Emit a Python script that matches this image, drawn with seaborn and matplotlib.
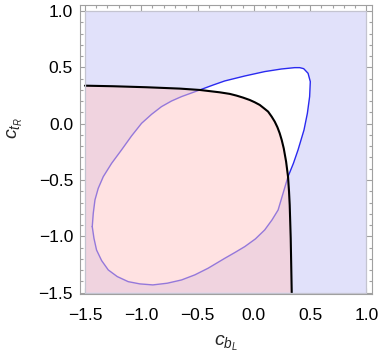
import numpy as np
import pandas as pd
import matplotlib
matplotlib.use('Agg')
import matplotlib.pyplot as plt
from matplotlib.ticker import MultipleLocator
import seaborn as sns

# Black boundary (pink region lies below/left of it)
black_x = [-1.5, -1.249, -0.953, -0.657, -0.48, -0.302, -0.213, -0.154, -0.095,
           -0.036, 0.008, 0.053, 0.091, 0.127, 0.159, 0.186, 0.21, 0.23, 0.248,
           0.266, 0.287, 0.304, 0.313, 0.319, 0.328, 0.337]
black_y = [0.337, 0.332, 0.323, 0.311, 0.299, 0.278, 0.264, 0.249, 0.231,
           0.21, 0.19, 0.166, 0.136, 0.107, 0.062, 0.018, -0.032, -0.085, -0.145,
           -0.219, -0.337, -0.47, -0.603, -0.721, -1.017, -1.5]

# Blue closed contour (white inside, lavender outside)
blue_x = [-1.435, -1.426, -1.411, -1.382, -1.337, -1.263, -1.175, -1.086, -0.997,
          -0.908, -0.82, -0.731, -0.642, -0.554, -0.48, -0.361, -0.258, -0.08,
          0.097, 0.245, 0.363, 0.408, 0.443, 0.482, 0.502, 0.496, 0.476, 0.446,
          0.393, 0.352, 0.304, 0.26, 0.216, 0.162, 0.097, 0.014, -0.08, -0.169,
          -0.258, -0.332, -0.406, -0.524, -0.642, -0.769, -0.897, -1.012, -1.116,
          -1.213, -1.293, -1.352, -1.397, -1.42, -1.435]
blue_y = [-0.914, -0.795, -0.677, -0.574, -0.47, -0.352, -0.233, -0.109, 0.003,
          0.083, 0.151, 0.201, 0.24, 0.272, 0.299, 0.343, 0.379, 0.423,
          0.462, 0.485, 0.497, 0.497, 0.488, 0.447, 0.373, 0.24, 0.092, -0.056,
          -0.233, -0.352, -0.47, -0.618, -0.766, -0.854, -0.943, -1.023, -1.091,
          -1.144, -1.195, -1.239, -1.283, -1.342, -1.387, -1.416, -1.431, -1.422,
          -1.402, -1.357, -1.298, -1.215, -1.121, -1.017, -0.914]

x_range = [-1.5, 1.0]
y_range = [-1.5, 1.0]

sns.set_theme(style='ticks')
plt.rcParams['font.family'] = ['Liberation Sans', 'DejaVu Sans']
plt.rcParams['mathtext.fontset'] = 'custom'
plt.rcParams['mathtext.it'] = 'Liberation Sans:italic'
plt.rcParams['mathtext.rm'] = 'Liberation Sans'

fig = plt.figure(figsize=(3.82, 3.59), dpi=100)
ax = fig.add_axes([0.2094, 0.1797, 0.7644, 0.8064])

# lavender region over the whole plot range
ax.fill([x_range[0], x_range[1], x_range[1], x_range[0]],
        [y_range[0], y_range[0], y_range[1], y_range[1]],
        color='#e1e1fa', lw=0, zorder=1)
# inside of blue contour is excluded (white)
ax.fill(blue_x, blue_y, color='white', lw=0, zorder=2)

blue_df = pd.DataFrame({'x': blue_x, 'y': blue_y})
sns.lineplot(data=blue_df, x='x', y='y', sort=False, estimator=None,
             color='#2a2af0', lw=1.0, ax=ax, zorder=3)

# pink region (semi-transparent, drawn over)
pink_x = black_x + [x_range[0]]
pink_y = black_y + [y_range[0]]
ax.fill(pink_x, pink_y, color='#ffc6c6', alpha=0.5, lw=0, zorder=4)

black_df = pd.DataFrame({'x': black_x, 'y': black_y})
sns.lineplot(data=black_df, x='x', y='y', sort=False, estimator=None,
             color='black', lw=1.5, ax=ax, zorder=5)

# region edge along the plot range
ax.plot([x_range[0], x_range[1], x_range[1], x_range[0], x_range[0]],
        [y_range[0], y_range[0], y_range[1], y_range[1], y_range[0]],
        color='#c4c4d0', lw=0.9, zorder=6)

ax.set_xlim(-1.544, 1.05)
ax.set_ylim(-1.516, 1.053)

ax.xaxis.set_major_locator(MultipleLocator(0.5))
ax.yaxis.set_major_locator(MultipleLocator(0.5))
ax.xaxis.set_minor_locator(MultipleLocator(0.1))
ax.yaxis.set_minor_locator(MultipleLocator(0.1))
ax.tick_params(which='both', direction='in', top=True, right=True,
               color='#a0a0a0', width=0.8, labelsize=12.5, labelcolor='black')
ax.tick_params(which='major', length=4, pad=5)
ax.tick_params(which='minor', length=2.2)
ax.tick_params(axis='x', which='major', pad=10)
for s in ax.spines.values():
    s.set_color('#a0a0a0')
    s.set_linewidth(0.8)

ax.set_xlabel(r'$c_{b_L}$', fontsize=14)
ax.set_ylabel(r'$c_{t_R}$', fontsize=14)
ax.xaxis.set_label_coords(0.5, -0.135)
ax.yaxis.set_label_coords(-0.19, 0.575)

plt.savefig('out.png', dpi=100)
